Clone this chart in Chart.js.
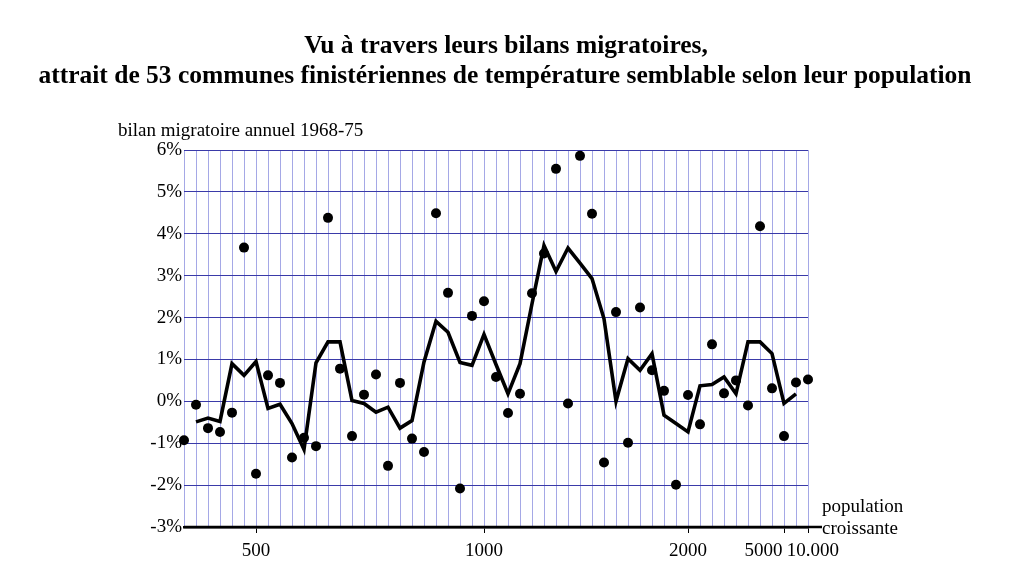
<!DOCTYPE html>
<html>
<head>
<meta charset="utf-8">
<script src="https://cdn.jsdelivr.net/npm/chart.js@4.4.1/dist/chart.umd.min.js"></script>
<style>
  html, body { margin: 0; background: #fff; }
  #wrap { width: 1024px; height: 582px; }
</style>
</head>
<body>
<div id="wrap"><canvas id="chart" width="1024" height="582"></canvas></div>
<script>
/* DATA */

const titre = [
  "Vu à travers leurs bilans migratoires,",
  "attrait de 53 communes finistériennes de température semblable selon leur population"
];
const titreAxeY = "bilan migratoire annuel 1968-75";
const titreAxeX = ["population", "croissante"];

// bilan migratoire annuel (%) des 53 communes, classées par population croissante
const bilans = [
  -0.93, -0.08, -0.64, -0.73, -0.27, 3.67, -1.73, 0.62, 0.44, -1.34,
  -0.87, -1.07, 4.38, 0.78, -0.83, 0.16, 0.64, -1.54, 0.44, -0.89,
  -1.21, 4.49, 2.59, -2.08, 2.04, 2.39, 0.58, -0.28, 0.18, 2.58,
  3.53, 5.55, -0.05, 5.86, 4.48, -1.46, 2.13, -0.99, 2.24, 0.74,
  0.25, -1.99, 0.15, -0.55, 1.36, 0.19, 0.5, -0.1, 4.18, 0.31,
  -0.83, 0.45, 0.52
];

// courbe lissée, absente aux deux extrémités
const lissage = [
  null, -0.49, -0.40, -0.48, 0.90, 0.62, 0.95, -0.17, -0.07, -0.53,
  -1.15, 0.92, 1.42, 1.42, 0.02, -0.05, -0.26, -0.14, -0.64, -0.46,
  0.94, 1.91, 1.65, 0.93, 0.86, 1.60, 0.88, 0.18, 0.90, 2.33,
  3.72, 3.10, 3.66, 3.30, 2.93, 1.97, 0.00, 1.02, 0.74, 1.14,
  -0.33, -0.53, -0.73, 0.37, 0.40, 0.58, 0.18, 1.42, 1.42, 1.14,
  -0.05, 0.18, null
];

// repères de population sur l'axe horizontal
const xTickLabels = ["500", "1000", "2000", "5000", "10.000"];
const xTickAt = [6, 25, 42, 50, 52];        // rang de la commune sous le trait
const xLabelAt = [6, 25, 42, 48.3, 52.4];   // rang où le libellé est centré

const yMin = -3;
const yMax = 6;

/* CHART */

const serif = "'Liberation Serif', 'Times New Roman', serif";
const gridV = "rgba(110,115,215,0.62)";
const gridH = "#3a3aa8";

const nbCommunes = bilans.length;

const textes = {
  id: "textes",
  afterDraw(chart){
    const ctx = chart.ctx;
    const a = chart.chartArea;
    ctx.save();

    // trait de l'axe prolongé vers la droite
    ctx.strokeStyle = "#000";
    ctx.lineWidth = 2.5;
    ctx.beginPath();
    ctx.moveTo(a.left, a.bottom);
    ctx.lineTo(a.right + 14, a.bottom);
    ctx.stroke();

    ctx.fillStyle = "#000";
    ctx.textBaseline = "middle";

    ctx.font = "bold 25.5px " + serif;
    ctx.textAlign = "center";
    ctx.fillText(titre[0], 506, 46);
    ctx.fillText(titre[1], 505, 76);

    ctx.font = "19px " + serif;
    ctx.textAlign = "left";
    ctx.fillText(titreAxeY, 118, 131);
    ctx.fillText(titreAxeX[0], a.right + 14, 507);
    ctx.fillText(titreAxeX[1], a.right + 14, 529);

    ctx.restore();
  }
};

new Chart(document.getElementById("chart"), {
  type: "line",
  data: {
    datasets: [
      {
        label: "lissage",
        data: lissage.map((v, i) => ({ x: i, y: v })),
        borderColor: "#000",
        borderWidth: 3.6,
        pointRadius: 0,
        tension: 0,
        spanGaps: false,
        fill: false
      },
      {
        type: "scatter",
        label: "communes",
        data: bilans.map((v, i) => ({ x: i, y: v })),
        backgroundColor: "#000",
        pointBackgroundColor: "#000",
        pointBorderWidth: 0,
        pointRadius: 5,
        pointHoverRadius: 5,
        clip: false
      }
    ]
  },
  options: {
    responsive: false,
    animation: false,
    events: [],
    layout: { padding: { top: 150, right: 216, bottom: 10, left: 0 } },
    plugins: {
      legend: { display: false },
      tooltip: { enabled: false },
      title: { display: false }
    },
    scales: {
      x: {
        type: "linear",
        min: 0,
        max: nbCommunes - 1,
        afterBuildTicks: (scale) => {
          const vals = new Set();
          for (let i = 0; i < nbCommunes; i++) vals.add(i);
          xLabelAt.forEach(v => vals.add(v));
          scale.ticks = [...vals].sort((p, q) => p - q).map(v => ({ value: v }));
        },
        afterFit: (scale) => { scale.height = 45; },
        ticks: {
          autoSkip: false,
          maxRotation: 0,
          minRotation: 0,
          padding: 7,
          color: "#000",
          font: { family: serif, size: 19 },
          callback: (value) => {
            const k = xLabelAt.indexOf(value);
            return k >= 0 ? xTickLabels[k] : "";
          }
        },
        grid: {
          color: (c) => Number.isInteger(c.tick && c.tick.value) ? gridV : "transparent",
          tickColor: (c) => (c.tick && xTickAt.includes(c.tick.value)) ? "#000" : "transparent",
          tickLength: 6,
          lineWidth: 1
        },
        border: { display: true, color: "#000", width: 2.5 }
      },
      y: {
        min: yMin,
        max: yMax,
        afterFit: (scale) => { scale.width = 184; },
        ticks: {
          stepSize: 1,
          padding: 2,
          color: "#000",
          font: { family: serif, size: 19 },
          callback: (v) => v + "%"
        },
        grid: {
          color: gridH,
          lineWidth: 1,
          drawTicks: false
        },
        border: { display: false }
      }
    }
  },
  plugins: [textes]
});
</script>
</body>
</html>
